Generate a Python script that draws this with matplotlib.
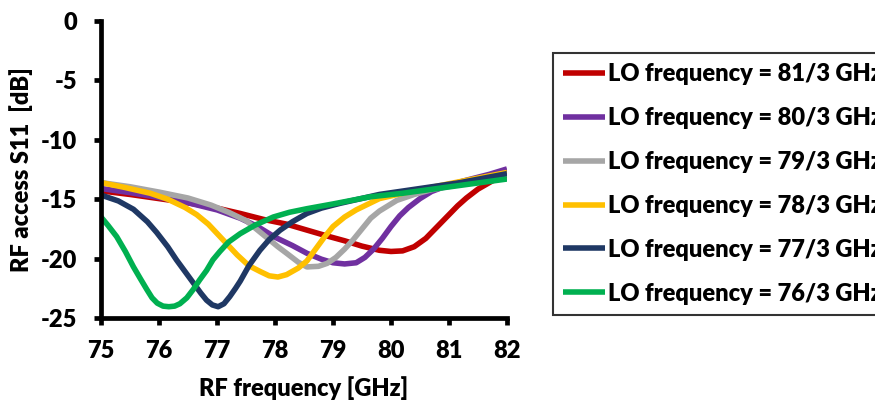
import matplotlib
matplotlib.use("Agg")
import matplotlib.pyplot as plt

# ── Data ──────────────────────────────────────────────────────────────────────
LABELS = [
    "LO frequency = 81/3 GHz",
    "LO frequency = 80/3 GHz",
    "LO frequency = 79/3 GHz",
    "LO frequency = 78/3 GHz",
    "LO frequency = 77/3 GHz",
    "LO frequency = 76/3 GHz",
]
COLORS = ["#C00000", "#7030A0", "#A6A6A6", "#FFC000", "#1F3864", "#00B050"]

f_81 = [75.0, 75.5, 76.0, 76.5, 77.0, 77.4, 77.8, 78.2, 78.55, 78.9, 79.2, 79.5,
        79.8, 80.0, 80.2, 80.4, 80.6, 80.8, 81.0, 81.15, 81.3, 81.5, 81.75, 82.0]
s_81 = [-14.3, -14.6, -14.95, -15.3, -15.75, -16.2, -16.7, -17.1, -17.6, -18.1,
        -18.5, -18.95, -19.3, -19.4, -19.35, -19.0, -18.3, -17.3, -16.3, -15.55,
        -14.9, -14.15, -13.45, -13.0]

f_80 = [75.0, 75.5, 76.0, 76.5, 77.0, 77.4, 77.7, 78.0, 78.3, 78.55, 78.8, 79.0,
        79.2, 79.4, 79.55, 79.7, 79.85, 80.0, 80.15, 80.3, 80.5, 80.7, 81.0, 81.3,
        81.7, 82.0]
s_80 = [-14.1, -14.45, -14.85, -15.3, -15.9, -16.6, -17.3, -18.2, -18.9, -19.55,
        -20.05, -20.35, -20.45, -20.35, -19.9, -19.2, -18.3, -17.3, -16.4, -15.7,
        -14.95, -14.35, -13.8, -13.4, -12.9, -12.45]

f_79 = [75.0, 75.5, 76.0, 76.5, 76.9, 77.2, 77.5, 77.85, 78.05, 78.2, 78.4, 78.55,
        78.75, 78.9, 79.05, 79.2, 79.35, 79.5, 79.65, 79.8, 80.1, 80.4, 80.7, 81.2,
        81.6, 82.0]
s_79 = [-13.6, -13.95, -14.4, -14.9, -15.5, -16.1, -16.8, -18.2, -19.0, -19.55,
        -20.3, -20.7, -20.65, -20.4, -19.9, -19.2, -18.4, -17.5, -16.6, -16.0,
        -15.1, -14.6, -14.2, -13.75, -13.3, -12.9]

f_78 = [75.0, 75.4, 75.85, 76.15, 76.45, 76.65, 76.85, 77.1, 77.35, 77.55, 77.75,
        77.9, 78.05, 78.2, 78.4, 78.55, 78.7, 78.85, 79.0, 79.2, 79.4, 79.8, 80.2,
        81.0, 82.0]
s_78 = [-13.6, -14.0, -14.5, -15.0, -15.7, -16.3, -17.1, -18.4, -19.7, -20.6,
        -21.1, -21.45, -21.55, -21.35, -20.8, -20.2, -19.2, -18.2, -17.3, -16.5,
        -15.9, -14.95, -14.5, -13.7, -12.75]

f_77 = [75.0, 75.3, 75.56, 75.8, 75.96, 76.15, 76.3, 76.45, 76.6, 76.72, 76.82,
        76.92, 77.02, 77.12, 77.22, 77.32, 77.4, 77.55, 77.74, 77.9, 78.09, 78.3,
        78.55, 78.8, 79.12, 79.8, 80.5, 81.2, 82.0]
s_77 = [-14.65, -15.15, -15.85, -16.9, -17.8, -19.0, -20.1, -21.1, -22.1, -22.9,
        -23.5, -23.9, -24.05, -23.8, -23.2, -22.5, -21.9, -20.6, -19.3, -18.4,
        -17.6, -16.9, -16.2, -15.75, -15.35, -14.6, -14.1, -13.6, -12.85]

f_76 = [75.0, 75.12, 75.27, 75.42, 75.56, 75.68, 75.79, 75.88, 75.97, 76.07,
        76.17, 76.27, 76.36, 76.48, 76.59, 76.7, 76.82, 76.93, 77.05, 77.2, 77.4,
        77.65, 77.97, 78.25, 78.55, 79.0, 79.64, 80.2, 80.8, 81.4, 82.0]
s_76 = [-16.5, -17.2, -18.15, -19.4, -20.7, -21.7, -22.6, -23.3, -23.75, -24.0,
        -24.05, -24.0, -23.8, -23.3, -22.6, -21.8, -21.0, -20.1, -19.4, -18.6,
        -17.9, -17.2, -16.5, -16.1, -15.8, -15.4, -14.8, -14.5, -14.1, -13.7,
        -13.3]

FREQS = [f_81, f_80, f_79, f_78, f_77, f_76]
S11 = [s_81, s_80, s_79, s_78, s_77, s_76]

X_TICKS = [75, 76, 77, 78, 79, 80, 81, 82]
Y_TICKS = [0, -5, -10, -15, -20, -25]

# ── Style ─────────────────────────────────────────────────────────────────────
plt.rcParams["font.family"] = ["Lato", "DejaVu Sans"]
WEIGHT = "heavy"
plt.rcParams["font.weight"] = WEIGHT
FS = 17

fig = plt.figure(figsize=(8.75, 4.03), dpi=100)
ax = fig.add_axes([101 / 875, 1 - 318 / 403, 406 / 875, 297 / 403])

lines = []
for f, s, c, lab in zip(FREQS, S11, COLORS, LABELS):
    (ln,) = ax.plot(f, s, color=c, lw=4.0, label=lab,
                    solid_joinstyle="round", solid_capstyle="butt")
    lines.append(ln)

ax.set_xlim(75, 82)
ax.set_ylim(-25, 0)
ax.set_xticks(X_TICKS)
ax.set_yticks(Y_TICKS)
ax.set_xticklabels([str(t) for t in X_TICKS], fontsize=FS, fontweight=WEIGHT)
ax.set_yticklabels([str(t) for t in Y_TICKS], fontsize=FS, fontweight=WEIGHT)

for side in ("top", "right"):
    ax.spines[side].set_visible(False)
for side in ("left", "bottom"):
    ax.spines[side].set_linewidth(3.4)
    ax.spines[side].set_capstyle("projecting")
ax.tick_params(direction="out", length=5, width=3.4)
ax.tick_params(axis="x", pad=11)
ax.tick_params(axis="y", pad=12)

ax.set_xlabel("RF frequency [GHz]", fontsize=FS, fontweight=WEIGHT, labelpad=10)
ax.set_ylabel("RF access S11  [dB]", fontsize=FS, fontweight=WEIGHT, labelpad=6)

# legend box runs past the right edge, as in the original
leg = fig.legend(
    handles=lines,
    loc="upper left",
    bbox_to_anchor=(553 / 875, 1 - 53 / 403),
    borderaxespad=0,
    frameon=True,
    fancybox=False,
    edgecolor="black",
    prop={"size": FS, "weight": WEIGHT},
    handlelength=1.8,
    handletextpad=0.1,
    labelspacing=0.93,
    borderpad=0.42,
)
leg.get_frame().set_linewidth(1.5)

fig.savefig("out.png", dpi=100, facecolor="white")
